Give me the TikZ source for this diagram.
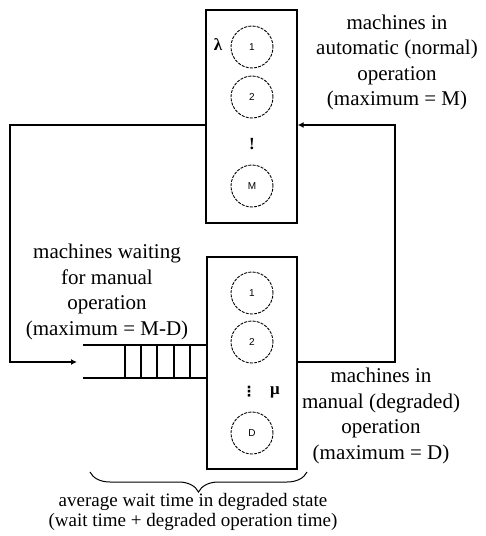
\documentclass[tikz,border=0pt]{standalone}
\usepackage{fontspec}
\setmainfont{Liberation Serif}
\newfontfamily\labsans{Liberation Sans}
\newfontfamily\dejavu{DejaVu Sans}
\usetikzlibrary{arrows.meta,decorations.pathreplacing}
\begin{document}
\begin{tikzpicture}[x=1pt,y=-1pt,
  box/.style={draw,line width=1.3pt,rectangle,inner sep=0pt},
  mach/.style={draw,circle,line width=0.9pt,dash pattern=on 3pt off 1.2pt,minimum size=42pt,inner sep=0pt,font=\labsans\fontsize{10}{12}\selectfont},
  lab/.style={align=center,font=\fontsize{21}{25.5}\selectfont,inner sep=0pt},
  sym/.style={inner sep=0pt,font=\bfseries\fontsize{17}{17}\selectfont},
  conn/.style={line width=1.3pt},
  arr/.style={conn,-{Latex[length=6pt,width=6pt]}}]
\useasboundingbox (0,0) rectangle (486,536);

% boxes
\node[box,minimum width=91pt,minimum height=213pt] (topbox) at (251.5,116.5) {};
\node[box,minimum width=90pt,minimum height=212pt] (botbox) at (252,363) {};

% machines in automatic operation
\node[mach] (c1) at (252,47) {1};
\node[mach] (c2) at (252,97) {2};
\node[sym] (cdots) at (252,144) {!};
\node[mach] (cM) at (252,186) {M};
\node[sym] (lam) at (218,45) {λ};

% machines in manual operation
\node[mach] (d1) at (252,293) {1};
\node[mach] (d2) at (252,342) {2};
\node[inner sep=0pt,font=\dejavu\bfseries\fontsize{14}{14}\selectfont] (ddots) at (249,392) {⋮};
\node[sym] (mu) at (275,392) {μ};
\node[mach] (dD) at (252,433) {D};

% queue
\draw[conn] (83,345) -- (botbox.west |- 0,345);
\draw[conn] (83,378) -- (botbox.west |- 0,378);
\foreach \qx in {125,141,157,174,190}
  \draw[conn] (\qx,345) -- (\qx,378);

% connectors
\coordinate (tbL) at (topbox.west |- 0,125);
\coordinate (tbR) at (topbox.east |- 0,125);
\coordinate (bbR) at (botbox.east |- 0,362);
\coordinate (lc) at (10,362);
\coordinate (qin) at (77,362);
\coordinate (rc) at (395,125);
\draw[arr] (tbL) -| (lc) -- (qin);
\draw[arr] (bbR) -| (rc) -- (tbR);

% labels
\node[lab] (tlab) at (397,62.5) {machines in\\automatic (normal)\\operation\\(maximum = M)};
\node[lab] (qlab) at (107,292) {machines waiting\\for manual\\operation\\(maximum = M-D)};
\node[lab] (blab) at (381,416) {machines in\\manual (degraded)\\operation\\(maximum = D)};

% brace
\draw[line width=1pt,decorate,decoration={brace,mirror,amplitude=20pt}] (90,472) -- (307,472);
\node[align=center,inner sep=0pt,font=\fontsize{19}{20}\selectfont] (wlab) at (193,512)
  {average wait time in degraded state\\(wait time + degraded operation time)};
\end{tikzpicture}
\end{document}
